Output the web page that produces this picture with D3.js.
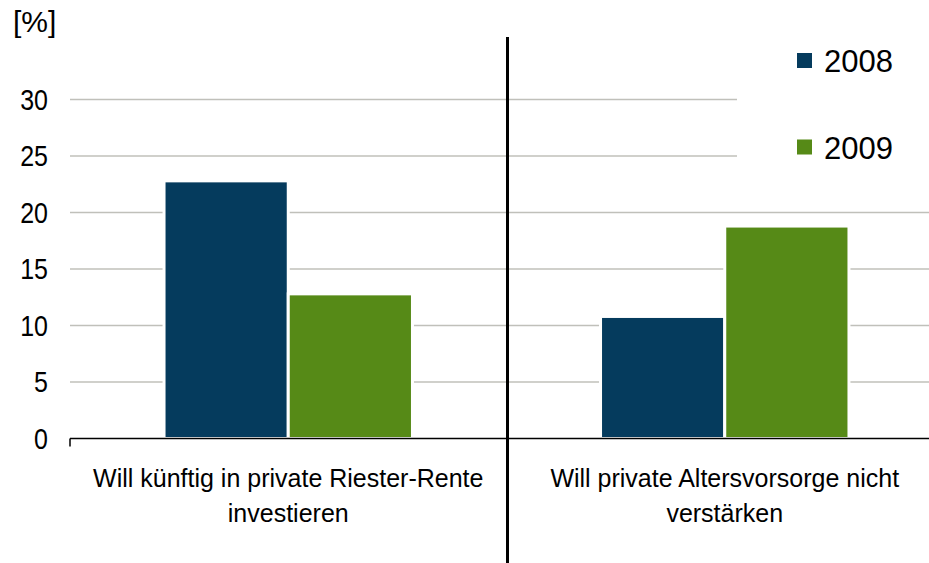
<!DOCTYPE html>
<html lang="de">
<head>
<meta charset="UTF-8">
<title>Riester-Rente 2008 / 2009</title>
<script src="https://d3js.org/d3.v7.min.js"></script>
<style>
    body { margin: 0; background: #fff; }
    svg { display: block; font-family: 'Liberation Sans', Arial, sans-serif; }
    .grid line { stroke: #c0c0ba; stroke-width: 1.5px; }
</style>
</head>
<body>
<svg id="chart" width="929" height="563"></svg>
<script>
    // data
    const categories = [
        ["Will künftig in private Riester-Rente", "investieren"],
        ["Will private Altersvorsorge nicht", "verstärken"]
    ];
    const series = ["2008", "2009"];
    const values2008 = [22.8, 10.8];
    const values2009 = [12.8, 18.8];
    const yTicks = [0, 5, 10, 15, 20, 25, 30];
    const colors = ["#053b5d", "#568a17"];

    const svg = d3.select("#chart");

    const catKeys = categories.map((c, i) => i);
    const x0 = d3.scaleBand().domain(catKeys).range([70, 943]);
    const x1 = d3.scaleBand().domain(series).range([0, x0.bandwidth()]).paddingOuter(0.757);
    const y = d3.scaleLinear().domain([0, 30]).range([438.5, 99.5]);

    // gridlines
    svg.append("g").attr("class", "grid")
        .selectAll("line").data(yTicks.slice(1)).enter().append("line")
        .attr("x1", 70).attr("x2", 929)
        .attr("y1", d => y(d)).attr("y2", d => y(d));

    // bars
    const rows = catKeys.map(i => ({ cat: i, vals: [values2008[i], values2009[i]] }));
    const groups = svg.selectAll(".grp").data(rows).enter().append("g")
        .attr("transform", d => `translate(${x0(d.cat)},0)`);
    groups.selectAll("rect")
        .data(d => d.vals.map((v, j) => ({ key: series[j], v: v, j: j })))
        .enter().append("rect")
        .attr("x", d => x1(d.key))
        .attr("width", x1.bandwidth())
        .attr("y", d => y(d.v))
        .attr("height", d => y(0) - y(d.v))
        .attr("fill", d => colors[d.j])
        .attr("stroke", "#fff")
        .attr("stroke-width", 3);

    // x axis line + tick
    svg.append("line").attr("x1", 70).attr("x2", 929)
        .attr("y1", y(0)).attr("y2", y(0))
        .attr("stroke", "#000").attr("stroke-width", 1.5);
    svg.append("line").attr("x1", 70).attr("x2", 70)
        .attr("y1", y(0)).attr("y2", y(0) + 8)
        .attr("stroke", "#000").attr("stroke-width", 1.5);

    // separator between categories
    const sepX = x0(1) + 1;
    svg.append("line").attr("x1", sepX).attr("x2", sepX)
        .attr("y1", 37).attr("y2", 563)
        .attr("stroke", "#000").attr("stroke-width", 3);

    // y tick labels (slightly tall glyphs, as in the original)
    svg.selectAll(".ylab").data(yTicks).enter().append("text")
        .attr("transform", d => `translate(48,${y(d)}) scale(1,1.15)`)
        .attr("dy", "0.36em")
        .attr("text-anchor", "end").attr("font-size", 25).attr("fill", "#000")
        .text(d => d);

    svg.append("text").attr("x", 13).attr("y", 32)
        .attr("font-size", 30).attr("fill", "#000").text("[%]");

    // category labels
    const lab = svg.selectAll(".cat").data(categories).enter().append("text")
        .attr("text-anchor", "middle").attr("font-size", 25).attr("fill", "#000");
    lab.selectAll("tspan").data((d, i) => d.map(t => ({ t: t, i: i }))).enter().append("tspan")
        .attr("x", d => x0(d.i) + x0.bandwidth() / 2)
        .attr("y", (d, k) => 487 + k * 35)
        .text(d => d.t);

    // legend
    svg.append("rect").attr("x", 737).attr("y", 30).attr("width", 192).attr("height", 170).attr("fill", "#fff");
    const leg = svg.selectAll(".leg").data(series).enter().append("g")
        .attr("transform", (d, i) => `translate(797,${53 + i * 86.5})`);
    leg.append("rect").attr("width", 15).attr("height", 15).attr("fill", (d, i) => colors[i]);
    leg.append("text").attr("x", 27).attr("y", 19)
        .attr("font-size", 31).attr("fill", "#000").text(d => d);
</script>
</body>
</html>
